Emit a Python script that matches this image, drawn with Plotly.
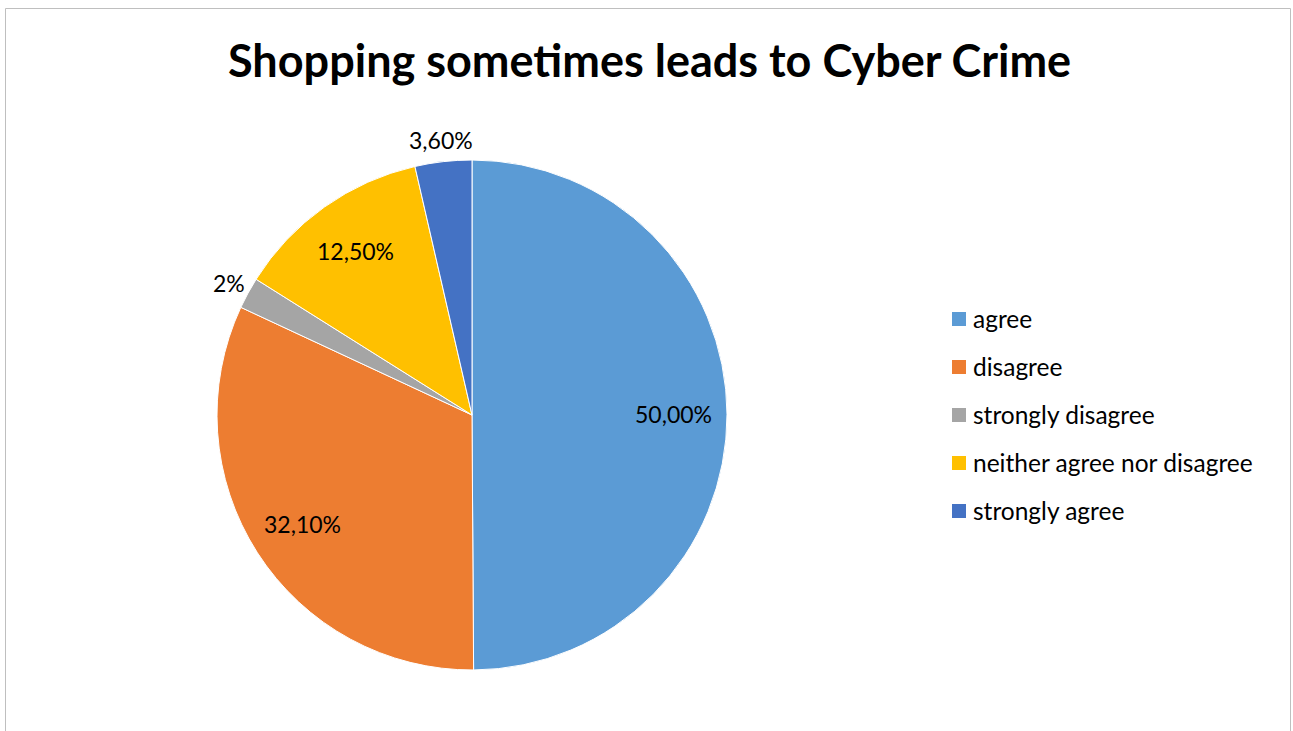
import math
import plotly.graph_objects as go

# Survey answers and their shares (percent)
categories = ["agree", "disagree", "strongly disagree",
              "neither agree nor disagree", "strongly agree"]
shares = [50.0, 32.1, 2.0, 12.5, 3.6]
share_labels = ["50,00%", "32,10%", "2%", "12,50%", "3,60%"]

colors = ["#5B9BD5", "#ED7D31", "#A5A5A5", "#FFC000", "#4472C4"]
label_outside = [False, False, True, False, True]

W, H = 1293, 731
CX, CY, R = 472, 415, 255          # pie centre / radius in pixels (from top-left)
FONT = "Lato"

fig = go.Figure()
fig.add_trace(go.Pie(
    labels=categories,
    values=shares,
    sort=False,
    direction="clockwise",
    rotation=0,
    marker=dict(colors=colors, line=dict(color="white", width=1)),
    textinfo="none",
    hoverinfo="label+percent",
    showlegend=False,
    domain=dict(x=[(CX - R) / W, (CX + R) / W],
                y=[(H - CY - R) / H, (H - CY + R) / H]),
))

annotations = []

# Value labels positioned at the middle angle of each slice
total = sum(shares)
start = 0.0
for val, txt, out in zip(shares, share_labels, label_outside):
    span = 360.0 * val / total
    mid = math.radians(start + span / 2)
    f = 1.085 if out else 0.79
    px = CX + f * R * math.sin(mid)
    py = CY - f * R * math.cos(mid)
    annotations.append(dict(
        x=px / W, y=1 - py / H, xref="paper", yref="paper",
        text=txt, showarrow=False, xanchor="center", yanchor="middle",
        font=dict(family=FONT, size=23, color="#000000"),
    ))
    start += span

# Title
annotations.append(dict(
    x=649 / W, y=1 - 60 / H, xref="paper", yref="paper",
    text="<b>Shopping sometimes leads to Cyber Crime</b>", showarrow=False,
    xanchor="center", yanchor="middle",
    font=dict(family=FONT, size=45, color="#000000"),
))

shapes = []
# Legend: coloured squares with category names
leg_x, leg_y0, leg_dy, sq = 952, 319, 48.0, 14
for i, (name, col) in enumerate(zip(categories, colors)):
    yc = leg_y0 + i * leg_dy
    shapes.append(dict(
        type="rect", xref="paper", yref="paper",
        x0=leg_x / W, x1=(leg_x + sq) / W,
        y0=1 - (yc + sq / 2) / H, y1=1 - (yc - sq / 2) / H,
        fillcolor=col, line=dict(width=0),
    ))
    annotations.append(dict(
        x=(leg_x + sq + 5) / W, y=1 - yc / H, xref="paper", yref="paper",
        text=name, showarrow=False, xanchor="left", yanchor="middle",
        font=dict(family=FONT, size=24.5, color="#000000"),
    ))

# Chart area border
shapes.append(dict(
    type="rect", xref="paper", yref="paper",
    x0=5.5 / W, x1=1290.5 / W, y0=-0.05, y1=1 - 8.5 / H,
    line=dict(color="#BFBFBF", width=1), fillcolor="rgba(0,0,0,0)",
))

fig.update_layout(
    width=W, height=H,
    margin=dict(l=0, r=0, t=0, b=0),
    paper_bgcolor="white", plot_bgcolor="white",
    showlegend=False,
    annotations=annotations,
    shapes=shapes,
)

fig.write_html("out.html")
